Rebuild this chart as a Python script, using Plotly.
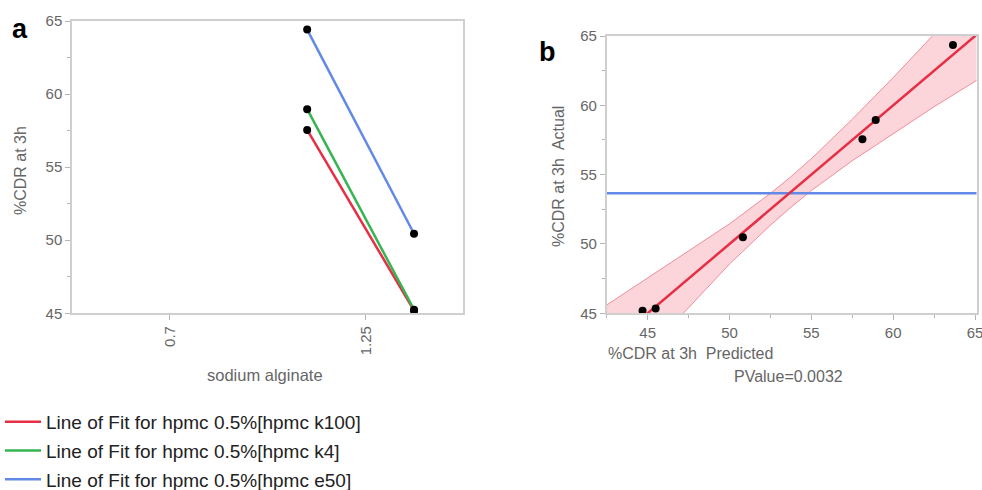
import plotly.graph_objects as go

# ---------------- data ----------------
# Panel a: %CDR at 3h vs sodium alginate, per HPMC grade
sodium_alginate = [1.085, 1.385]
cdr_k100 = [57.55, 45.18]
cdr_k4 = [58.97, 45.25]
cdr_e50 = [64.41, 50.44]
series_names = [
    "Line of Fit for hpmc 0.5%[hpmc k100]",
    "Line of Fit for hpmc 0.5%[hpmc k4]",
    "Line of Fit for hpmc 0.5%[hpmc e50]",
]
a_xticks = [0.7, 1.25]
a_xticklabels = ["0.7", "1.25"]

# Panel b: actual by predicted
predicted = [44.69, 45.49, 50.82, 58.12, 58.93, 63.65]
actual = [45.19, 45.34, 50.49, 57.55, 58.94, 64.35]
fit_x = [42.5, 65.1]
fit_y = [42.5, 65.1]
mean_actual = 53.66
band_x = [42.5, 45.0, 47.5, 50.0, 52.5, 53.7, 55.0, 57.5, 60.0, 62.5, 65.1]
band_upper = [45.6, 47.55, 49.5, 51.45, 53.65, 54.8, 56.15, 59.0, 62.0, 65.1, 68.4]
band_lower = [39.3, 42.4, 45.4, 48.55, 51.35, 52.6, 53.85, 56.0, 57.95, 59.9, 61.8]
b_xticks = [45, 50, 55, 60, 65]
pvalue_text = "PValue=0.0032"

# ---------------- styles ----------------
RED = "#e62e45"
GREEN = "#34b552"
BLUE = "#6289e6"
FONT = "Liberation Sans, Arial, sans-serif"
TICKCOL = "#666666"
AXCOL = "#cfcfcf"

fig = go.Figure()

# Panel a lines
for ys, col, name in zip([cdr_k100, cdr_k4, cdr_e50], [RED, GREEN, BLUE], series_names):
    fig.add_trace(go.Scatter(
        x=sodium_alginate, y=ys, mode="lines", name=name,
        line=dict(color=col, width=2.5), xaxis="x", yaxis="y",
        legendgroup=name, showlegend=True, hoverinfo="skip"))
# Panel a points
pts_x = sodium_alginate * 3
pts_y = []
for ys in [cdr_k100, cdr_k4, cdr_e50]:
    pts_y += ys
fig.add_trace(go.Scatter(
    x=pts_x, y=pts_y, mode="markers", marker=dict(color="black", size=8),
    xaxis="x", yaxis="y", showlegend=False, cliponaxis=False))

# Panel b band
fig.add_trace(go.Scatter(
    x=band_x, y=band_lower, mode="lines",
    line=dict(color="rgba(235,110,130,0.75)", width=1),
    xaxis="x2", yaxis="y2", showlegend=False, hoverinfo="skip"))
fig.add_trace(go.Scatter(
    x=band_x, y=band_upper, mode="lines", fill="tonexty",
    fillcolor="rgba(245,135,150,0.35)",
    line=dict(color="rgba(235,110,130,0.75)", width=1),
    xaxis="x2", yaxis="y2", showlegend=False, hoverinfo="skip"))
# mean line
fig.add_trace(go.Scatter(
    x=[fit_x[0], fit_x[1]], y=[mean_actual, mean_actual], mode="lines",
    line=dict(color=BLUE, width=2.5), xaxis="x2", yaxis="y2",
    showlegend=False, hoverinfo="skip"))
# fit line
fig.add_trace(go.Scatter(
    x=fit_x, y=fit_y, mode="lines", line=dict(color=RED, width=2.5),
    xaxis="x2", yaxis="y2", showlegend=False, hoverinfo="skip"))
# points
fig.add_trace(go.Scatter(
    x=predicted, y=actual, mode="markers", marker=dict(color="black", size=8),
    xaxis="x2", yaxis="y2", showlegend=False, cliponaxis=False))

W, H = 982, 490

def px_x(v):
    return v / W

def px_y(v):
    return 1 - v / H

axis_common = dict(
    showgrid=False, zeroline=False, showline=True, linecolor=AXCOL, linewidth=1.5,
    mirror=True, ticks="outside", ticklen=5, tickcolor="#b5b5b5",
    tickfont=dict(family=FONT, size=15, color=TICKCOL),
    ticklabeloverflow="allow",
)

fig.update_layout(
    width=W, height=H,
    margin=dict(l=0, r=0, t=0, b=0, autoexpand=False),
    paper_bgcolor="white", plot_bgcolor="white",
    font=dict(family=FONT),
    xaxis=dict(
        **axis_common, domain=[px_x(72), px_x(462.5)], range=[0.425, 1.521],
        tickvals=a_xticks, ticktext=a_xticklabels, tickangle=-90, anchor="y"),
    yaxis=dict(
        **axis_common, domain=[px_y(313.3), px_y(21)], range=[45, 65],
        dtick=5, tick0=45, anchor="x",
        minor=dict(ticks="outside", ticklen=3, dtick=2.5, tickcolor="#b5b5b5")),
    xaxis2=dict(
        **axis_common, domain=[px_x(606.7), px_x(976.7)], range=[42.5, 65.1],
        tickvals=b_xticks, anchor="y2",
        minor=dict(ticks="outside", ticklen=3, dtick=2.5, tickcolor="#b5b5b5")),
    yaxis2=dict(
        **axis_common, domain=[px_y(313.3), px_y(36)], range=[45, 65],
        dtick=5, tick0=45, anchor="x2",
        minor=dict(ticks="outside", ticklen=3, dtick=2.5, tickcolor="#b5b5b5")),
    legend=dict(
        x=0.0, y=px_y(403), xanchor="left", yanchor="top",
        font=dict(family=FONT, size=19, color="#222222"),
        bgcolor="rgba(0,0,0,0)", itemwidth=36, tracegroupgap=1,
        itemclick=False, itemdoubleclick=False),
    showlegend=True,
)

annos = [
    dict(text="<b>a</b>", x=px_x(20), y=px_y(29), font=dict(size=27, color="black")),
    dict(text="<b>b</b>", x=px_x(547), y=px_y(52), font=dict(size=27, color="black")),
    dict(text="%CDR at 3h", x=px_x(21), y=px_y(171), textangle=-90,
         font=dict(size=16, color=TICKCOL)),
    dict(text="sodium alginate", x=px_x(265), y=px_y(375),
         font=dict(size=16.5, color=TICKCOL)),
    dict(text="%CDR at 3h  Actual", x=px_x(558), y=px_y(177), textangle=-90,
         font=dict(size=16, color=TICKCOL)),
    dict(text="%CDR at 3h  Predicted", x=px_x(606), y=px_y(353), xanchor="left",
         font=dict(size=16, color=TICKCOL)),
    dict(text=pvalue_text, x=px_x(788), y=px_y(376),
         font=dict(size=16, color=TICKCOL)),
]
for a in annos:
    a.setdefault("xanchor", "center")
    fig.add_annotation(xref="paper", yref="paper", showarrow=False,
                       yanchor="middle", **a)

fig.write_html("out.html")
